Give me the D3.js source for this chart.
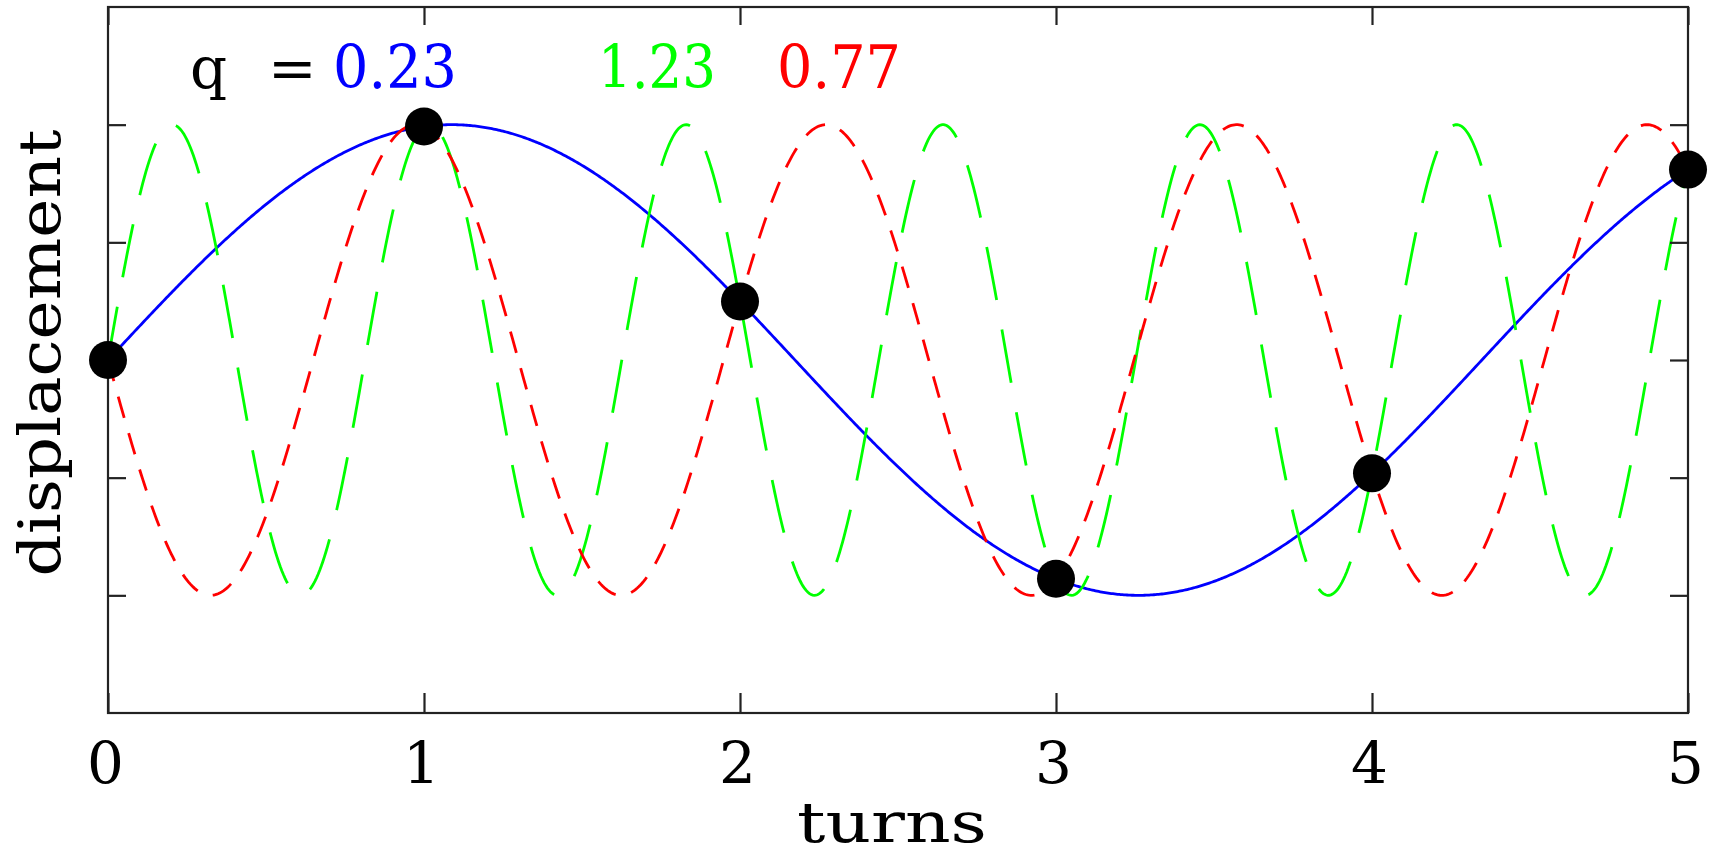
<!DOCTYPE html>
<html>
<head>
<meta charset="utf-8">
<script src="https://cdn.jsdelivr.net/npm/d3@7"></script>
<style>
  html, body { margin: 0; padding: 0; background: #fff; }
  svg { display: block; }
  text { font-family: "DejaVu Serif", serif; }
</style>
</head>
<body>
<svg id="chart" width="1711" height="856"></svg>
<script>
// ---- data ----
const qLabels = ["0.23", "1.23", "0.77"];
// signed frequencies (cycles per turn) of the three waves
const qFreqs = [0.23, 1.23, -0.77];
const seriesColors = ["#0000ff", "#00ff00", "#ff0000"];
const sampleTurns = [0, 1, 2, 3, 4, 5];
const xTicks = [0, 1, 2, 3, 4, 5];
const yTicks = [-1, -0.5, 0, 0.5, 1];
const xDomain = [0, 5];
const yDomain = [-1.5, 1.5];

// ---- layout ----
const svg = d3.select("#chart");
const L = 108, R = 1688, T = 7, B = 713;
const x = d3.scaleLinear().domain(xDomain).range([L, R]);
const y = d3.scaleLinear().domain(yDomain).range([B, T]);

svg.append("defs").append("clipPath").attr("id", "clip")
  .append("rect").attr("x", L).attr("y", T).attr("width", R - L).attr("height", B - T);

// curves
const fine = d3.range(0, 5.0001, 0.005);
const line = d3.line().x(d => x(d[0])).y(d => y(d[1]));
const dashes = [null, "54,30", "22,16"];
const widths = [2.8, 2.8, 2.8];
const plotG = svg.append("g").attr("clip-path", "url(#clip)");
qFreqs.forEach((q, i) => {
  const pts = fine.map(t => [t, Math.sin(2 * Math.PI * q * t)]);
  plotG.append("path")
    .attr("d", line(pts))
    .attr("fill", "none")
    .attr("stroke", seriesColors[i])
    .attr("stroke-width", widths[i])
    .attr("stroke-dasharray", dashes[i]);
});

// frame
svg.append("rect").attr("x", L).attr("y", T).attr("width", R - L).attr("height", B - T)
  .attr("fill", "none").attr("stroke", "#222").attr("stroke-width", 2.2);

// axes (ticks inward)
const axB = d3.axisBottom(x).tickValues(xTicks).tickSizeInner(-20).tickSizeOuter(0).tickFormat(d3.format("d"));
const gB = svg.append("g").attr("transform", `translate(0,${B})`).call(axB);
const axT = d3.axisTop(x).tickValues(xTicks).tickSizeInner(-18).tickSizeOuter(0).tickFormat("");
const gT = svg.append("g").attr("transform", `translate(0,${T})`).call(axT);
const axL = d3.axisLeft(y).tickValues(yTicks).tickSizeInner(-18).tickSizeOuter(0).tickFormat("");
const gL = svg.append("g").attr("transform", `translate(${L},0)`).call(axL);
const axR = d3.axisRight(y).tickValues(yTicks).tickSizeInner(-18).tickSizeOuter(0).tickFormat("");
const gR = svg.append("g").attr("transform", `translate(${R},0)`).call(axR);
[gB, gT, gL, gR].forEach(g => {
  g.select(".domain").remove();
  g.selectAll(".tick line").attr("stroke", "#222").attr("stroke-width", 2.2);
});
gB.selectAll(".tick text")
  .attr("font-family", "DejaVu Serif, serif")
  .attr("font-size", 58)
  .attr("fill", "#000")
  .attr("dy", null)
  .attr("y", 70)
  .attr("dx", -3);

// dots
svg.append("g").selectAll("circle").data(sampleTurns).join("circle")
  .attr("cx", d => x(d))
  .attr("cy", d => y(Math.sin(2 * Math.PI * qFreqs[0] * d)))
  .attr("r", 19)
  .attr("fill", "#000");

// axis titles
svg.append("text").attr("x", 892).attr("y", 842).attr("text-anchor", "middle")
  .attr("font-size", 56).attr("textLength", 190).attr("lengthAdjust", "spacingAndGlyphs")
  .attr("fill", "#000").text("turns");
svg.append("text")
  .attr("transform", "translate(60,353) rotate(-90)")
  .attr("text-anchor", "middle")
  .attr("font-size", 58).attr("textLength", 447).attr("lengthAdjust", "spacingAndGlyphs")
  .attr("fill", "#000").text("displacement");

// q legend
svg.append("text").attr("x", 190).attr("y", 88).attr("font-size", 58).attr("fill", "#000").text("q");
svg.append("text").attr("x", 268).attr("y", 88).attr("font-size", 58).attr("fill", "#000").text("=");
const qX = [333, 598, 777];
qLabels.forEach((s, i) => {
  svg.append("text").attr("x", qX[i]).attr("y", 88)
    .attr("font-size", 60).attr("textLength", i === 1 ? 118 : 124).attr("lengthAdjust", "spacingAndGlyphs")
    .attr("fill", seriesColors[i]).text(s);
});
</script>
</body>
</html>
